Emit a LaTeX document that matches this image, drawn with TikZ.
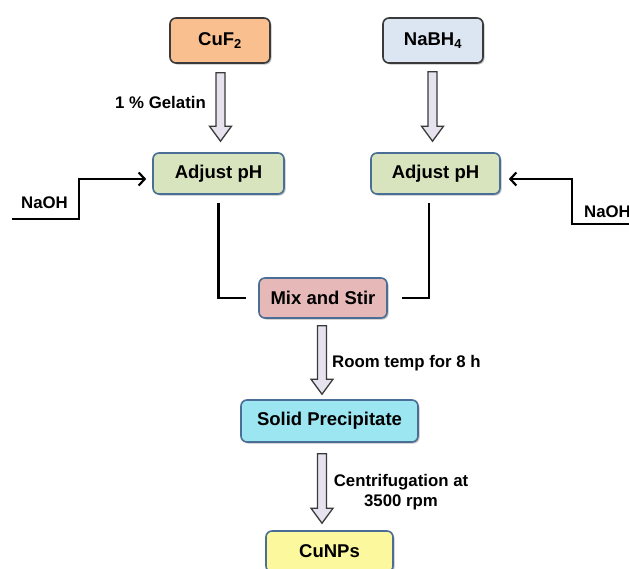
\documentclass[tikz,border=0pt]{standalone}
\usepackage{fontspec}
\setmainfont{Liberation Sans}
\usetikzlibrary{arrows.meta,calc,shadows}
\definecolor{cufill}{HTML}{F9BF8F}
\definecolor{nabfill}{HTML}{DCE6F2}
\definecolor{phfill}{HTML}{D7E4BD}
\definecolor{mixfill}{HTML}{E6B9B8}
\definecolor{solfill}{HTML}{9CE6F2}
\definecolor{cunpfill}{HTML}{FCF89E}
\definecolor{bluebd}{HTML}{4A6E96}
\definecolor{darkbd}{HTML}{3A3A3A}
\definecolor{arrfill}{HTML}{E6E3EF}
\tikzset{
  box/.style={draw=bluebd, line width=1.6pt, rounded corners=6pt, inner sep=0pt,
    font=\fontsize{18.5}{22}\selectfont\bfseries,
    drop shadow={shadow xshift=1.5pt, shadow yshift=-1.5pt, opacity=0.25, fill=black}},
  sidelabel/.style={font=\fontsize{16.8}{19.5}\selectfont\bfseries, inner sep=0pt},
  conn/.style={draw=black, line width=2.2pt},
  feed/.style={conn, -{Straight Barb[length=6pt,width=13pt]}},
  blockarrow/.style={draw=darkbd, fill=arrfill, line width=1.3pt, line join=miter}
}
\newcommand{\barrow}[2]{%
  \path[blockarrow] let \p1=#1, \p2=#2 in
    (\x1-4.5pt,\y1) -- (\x1+4.5pt,\y1) -- (\x1+4.5pt,\y2+15pt) -- (\x1+11pt,\y2+15pt)
    -- (\x1,\y2) -- (\x1-11pt,\y2+15pt) -- (\x1-4.5pt,\y2+15pt) -- cycle;}
\begin{document}
\begin{tikzpicture}[x=1pt,y=-1pt]
\path[use as bounding box, fill=white] (0,0) rectangle (629,568);

% boxes
\node[box, draw=darkbd, fill=cufill, minimum width=100pt, minimum height=45pt] (cuf) at (220,40.5) {CuF\textsubscript{2}};
\node[box, draw=darkbd, fill=nabfill, minimum width=100pt, minimum height=45pt] (nab) at (433,40.5) {NaBH\textsubscript{4}};
\node[box, fill=phfill, minimum width=131pt, minimum height=41pt] (ph1) at (218.5,173.5) {Adjust pH};
\node[box, fill=phfill, minimum width=129pt, minimum height=41pt] (ph2) at (435.5,173.5) {Adjust pH};
\node[box, fill=mixfill, minimum width=128pt, minimum height=40pt] (mix) at (323,298) {Mix and Stir};
\node[box, fill=solfill, minimum width=177pt, minimum height=42pt] (sol) at (329.5,421) {Solid Precipitate};
\node[box, fill=cunpfill, minimum width=127pt, minimum height=41pt] (cunp) at (329.5,551.5) {CuNPs};

% block arrows
\barrow{($(cuf.south)+(0.5,9)$)}{($(ph1.north)+(0,-11)$)}
\barrow{($(nab.south)+(-0.5,8)$)}{($(ph2.north)+(0,-11)$)}
\barrow{($(mix.south)+(-1,7)$)}{($(sol.north)+(0,-5)$)}
\barrow{($(sol.south)+(-7.5,11)$)}{($(cunp.north)+(0,-7)$)}

% labels
\node[sidelabel, anchor=east] (gel) at (206,102.5) {1 \% Gelatin};
\node[sidelabel, anchor=base west] (rt) at (332,367) {Room temp for 8 h};
\node[sidelabel, align=center] (cen) at (401,492) {Centrifugation at\\3500 rpm};

% mixing connectors
\draw[conn] ($(ph1.south)+(0,8)$) |- ($(mix.west)+(-12,0)$);
\draw[conn] ($(ph2.south)+(-6.5,8)$) |- ($(mix.east)+(14,0)$);

% NaOH feeds
\node[sidelabel, anchor=west] (naoh1) at (21,203) {NaOH};
\node[sidelabel, anchor=west] (naoh2) at (584,212) {NaOH};
\coordinate (n1) at (12,219);
\coordinate (n2) at (635,224);
\draw[feed] (n1) -- (79,219) -- (79,179) -- ($(ph1.west)+(-6,5.5)$);
\draw[feed] (n2) -- (572,224) -- (572,179) -- ($(ph2.east)+(8,5.5)$);
\end{tikzpicture}
\end{document}
